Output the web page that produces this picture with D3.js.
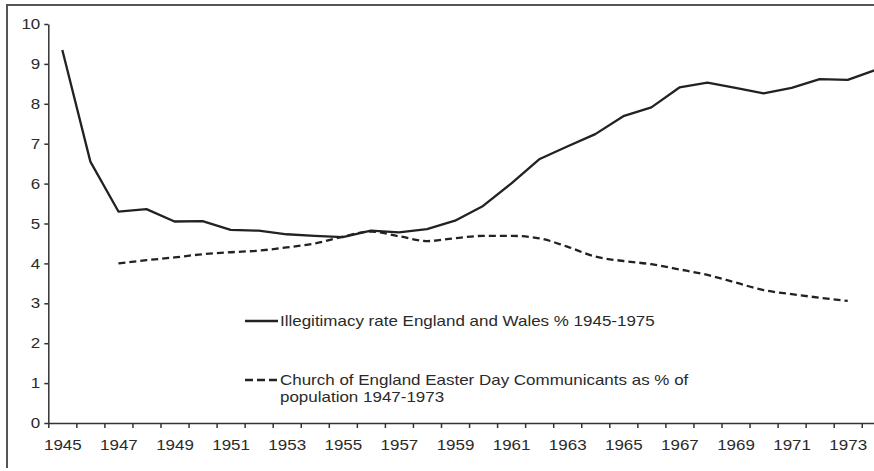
<!DOCTYPE html>
<html>
<head>
<meta charset="utf-8">
<script src="https://cdn.jsdelivr.net/npm/d3@7"></script>
<style>
  body { margin: 0; background: #fff; }
  svg { display: block; }
  .axis path, .axis line { stroke: #333; stroke-width: 1.5; }
  .axis text { fill: #2a2a2a; font-family: "Liberation Sans", Arial, sans-serif; font-size: 14.5px; }
  .legend text { fill: #2a2a2a; font-family: "Liberation Sans", Arial, sans-serif; font-size: 14.5px; }
</style>
</head>
<body>
<svg id="chart"></svg>
<script>
const years = [1945, 1946, 1947, 1948, 1949, 1950, 1951, 1952, 1953, 1954,
  1955, 1956, 1957, 1958, 1959, 1960, 1961, 1962, 1963, 1964,
  1965, 1966, 1967, 1968, 1969, 1970, 1971, 1972, 1973, 1974];
const illegitimacy = [9.35, 6.55, 5.30, 5.36, 5.05, 5.06, 4.84, 4.82, 4.73, 4.69,
  4.66, 4.82, 4.78, 4.86, 5.07, 5.44, 6.00, 6.61, 6.93, 7.24,
  7.69, 7.91, 8.41, 8.53, 8.40, 8.26, 8.40, 8.62, 8.60, 8.85];

const communicantYears = [1947, 1948, 1949, 1950, 1951, 1952, 1953, 1954, 1955, 1956,
  1957, 1958, 1959, 1960, 1961, 1962, 1963, 1964, 1965, 1966,
  1967, 1968, 1969, 1970, 1971, 1972, 1973];
const communicants = [4.00, 4.08, 4.15, 4.23, 4.28, 4.32, 4.40, 4.50, 4.67, 4.80,
  4.68, 4.56, 4.63, 4.69, 4.69, 4.63, 4.42, 4.17, 4.06, 3.98,
  3.85, 3.71, 3.52, 3.33, 3.23, 3.14, 3.06];

const yTicks = [0, 1, 2, 3, 4, 5, 6, 7, 8, 9, 10];
const xLabelYears = [1945, 1947, 1949, 1951, 1953, 1955, 1957, 1959, 1961, 1963,
  1965, 1967, 1969, 1971, 1973];

const legendLabels = [
  ['Illegitimacy rate England and Wales % 1945-1975'],
  ['Church of England Easter Day Communicants as % of', 'population 1947-1973'],
];

const width = 874, height = 471;
const textStretch = 1.17; // the scanned text is a bit wider than Arial

// widen text horizontally to match the reference
const stretch = (sel) => sel.each(function () {
  const len = this.getComputedTextLength();
  d3.select(this)
    .attr('textLength', len * textStretch)
    .attr('lengthAdjust', 'spacingAndGlyphs');
});

const svg = d3.select('#chart')
  .attr('width', width)
  .attr('height', height);

// frame (top and left only, the rest is cropped off)
svg.append('path')
  .attr('d', 'M7,468V5H874')
  .attr('fill', 'none')
  .attr('stroke', '#555')
  .attr('stroke-width', 2);

// a year sits in the middle of its slot, ticks are at slot edges
const x = d3.scaleLinear().domain([1944.5, 1974.5]).range([48.3, 889.8]);
const y = d3.scaleLinear().domain([0, 10]).range([423, 24]);

svg.append('g')
  .attr('class', 'axis axis--x')
  .attr('transform', `translate(0,${y(0)})`)
  .call(d3.axisBottom(x)
    .tickValues(years.map(d => d - 0.5))
    .tickSize(5)
    .tickSizeOuter(0)
    .tickFormat(''));

svg.append('g')
  .attr('class', 'axis axis--x-labels')
  .attr('transform', `translate(0,${y(0)})`)
  .call(d3.axisBottom(x)
    .tickValues(xLabelYears)
    .tickSize(0)
    .tickPadding(17)
    .tickFormat(d3.format('d')))
  .call(g => g.select('.domain').remove())
  .selectAll('text').call(stretch);

svg.append('g')
  .attr('class', 'axis axis--y')
  .attr('transform', `translate(${x(1944.5)},0)`)
  .call(d3.axisLeft(y)
    .tickValues(yTicks)
    .tickSize(4)
    .tickSizeOuter(0)
    .tickPadding(4))
  .selectAll('text').call(stretch);

const line = d3.line()
  .x(d => x(d.year))
  .y(d => y(d.value));

svg.append('path')
  .datum(years.map((year, i) => ({ year, value: illegitimacy[i] })))
  .attr('fill', 'none')
  .attr('stroke', '#222')
  .attr('stroke-width', 2.3)
  .attr('stroke-linejoin', 'round')
  .attr('d', line);

svg.append('path')
  .datum(communicantYears.map((year, i) => ({ year, value: communicants[i] })))
  .attr('fill', 'none')
  .attr('stroke', '#222')
  .attr('stroke-width', 2.3)
  .attr('stroke-dasharray', '7,4')
  .attr('d', line.curve(d3.curveMonotoneX));

// legend
const legend = svg.append('g').attr('class', 'legend');
const legendY = [321, 380];
const dashes = [null, '8,4'];

legendLabels.forEach((lines, i) => {
  legend.append('line')
    .attr('x1', 245)
    .attr('x2', 278)
    .attr('y1', legendY[i])
    .attr('y2', legendY[i])
    .attr('stroke', '#222')
    .attr('stroke-width', 2.5)
    .attr('stroke-dasharray', dashes[i]);

  legend.selectAll(null)
    .data(lines)
    .enter().append('text')
      .attr('x', 280)
      .attr('y', (d, j) => legendY[i] + 5 + j * 17)
      .text(d => d)
      .call(stretch);
});
</script>
</body>
</html>
